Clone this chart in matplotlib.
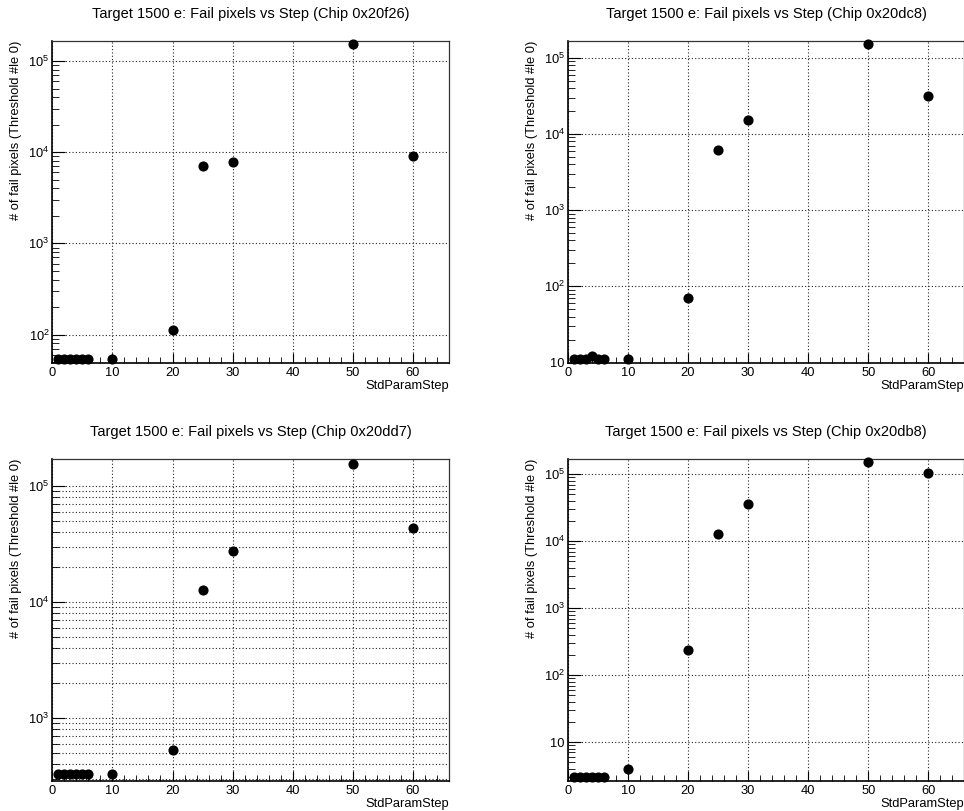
import matplotlib
matplotlib.use('Agg')
import matplotlib.pyplot as plt
import numpy as np
from matplotlib.ticker import LogLocator, MultipleLocator, FuncFormatter, NullFormatter

plt.rcParams['font.family'] = ['Liberation Sans', 'DejaVu Sans']
plt.rcParams['mathtext.default'] = 'regular'

# scan steps and number of failing pixels per chip
steps = [1, 2, 3, 4, 5, 6, 10, 20, 25, 30, 50, 60]
chips = ['0x20f26', '0x20dc8', '0x20dd7', '0x20db8']
fail_20f26 = [54, 54, 54, 54, 54, 54, 54, 111, 7140, 7760, 153000, 9040]
fail_20dc8 = [11, 11, 11, 12, 11, 11, 11, 70, 6210, 15100, 150000, 31300]
fail_20dd7 = [330, 330, 330, 330, 330, 330, 330, 533, 12600, 27500, 155000, 43500]
fail_20db8 = [3, 3, 3, 3, 3, 3, 4, 236, 12700, 36000, 151000, 106000]
y_ranges = [(49.3, 1.66e5), (10, 1.66e5), (290, 1.71e5), (2.67, 1.69e5)]
minor_grid = [False, False, True, False]

W, H = 964, 811
fig = plt.figure(figsize=(W / 100, H / 100), dpi=100)

# pad boxes in pixels: left, top
boxes = [(52.3, 41), (567.7, 41), (52.3, 459), (567.7, 459)]
bw, bh = 396.7, 321.5


def log_label(v, pos):
    n = int(round(np.log10(v)))
    if n == 1:
        return '10'
    return '$10^{%d}$' % n


for i, (vals, chip) in enumerate(zip([fail_20f26, fail_20dc8, fail_20dd7, fail_20db8], chips)):
    l, t = boxes[i]
    ax = fig.add_axes([l / W, 1 - (t + bh) / H, bw / W, bh / H])
    ax.plot(steps, vals, 'o', color='black', ms=6.3, clip_on=False, zorder=5)
    ax.set_yscale('log')
    ax.set_xlim(0, 66)
    ax.set_ylim(*y_ranges[i])

    ax.xaxis.set_major_locator(MultipleLocator(10))
    ax.xaxis.set_minor_locator(MultipleLocator(2))
    ax.yaxis.set_major_locator(LogLocator(base=10))
    ax.yaxis.set_minor_locator(LogLocator(base=10, subs=np.arange(2, 10)))
    ax.yaxis.set_major_formatter(FuncFormatter(log_label))
    ax.yaxis.set_minor_formatter(NullFormatter())

    ax.tick_params(axis='both', which='both', direction='in', top=False, right=False,
                   labelsize=9.3, colors='black')
    ax.tick_params(axis='x', which='major', length=7, pad=3)
    ax.tick_params(axis='x', which='minor', length=4)
    ax.tick_params(axis='y', which='major', length=9, pad=2)
    ax.tick_params(axis='y', which='minor', length=4.8)

    grid_kw = dict(color='#222222', linestyle=(0, (1, 2)), linewidth=0.8)
    ax.grid(True, which='major', **grid_kw)
    if minor_grid[i]:
        ax.grid(True, which='minor', axis='y', **grid_kw)
    ax.set_axisbelow(True)

    for s in ax.spines.values():
        s.set_color('#333333')
        s.set_linewidth(0.9)
    ax.spines['left'].set_color('black')
    ax.spines['bottom'].set_color('black')
    ax.spines['left'].set_linewidth(1.2)
    ax.spines['bottom'].set_linewidth(1.2)

    ax.set_title('Target 1500 e: Fail pixels vs Step (Chip %s)' % chip, fontsize=10.5, pad=16.5)
    ax.set_xlabel('StdParamStep', fontsize=9.3, loc='right')
    ax.xaxis.set_label_coords(1.0, -18 / bh)
    ax.set_ylabel('# of fail pixels (Threshold #le 0)', fontsize=9.3, loc='top')
    ax.yaxis.set_label_coords(-30 / bw, 1.0)

fig.savefig('out.png', dpi=100, facecolor='white')
